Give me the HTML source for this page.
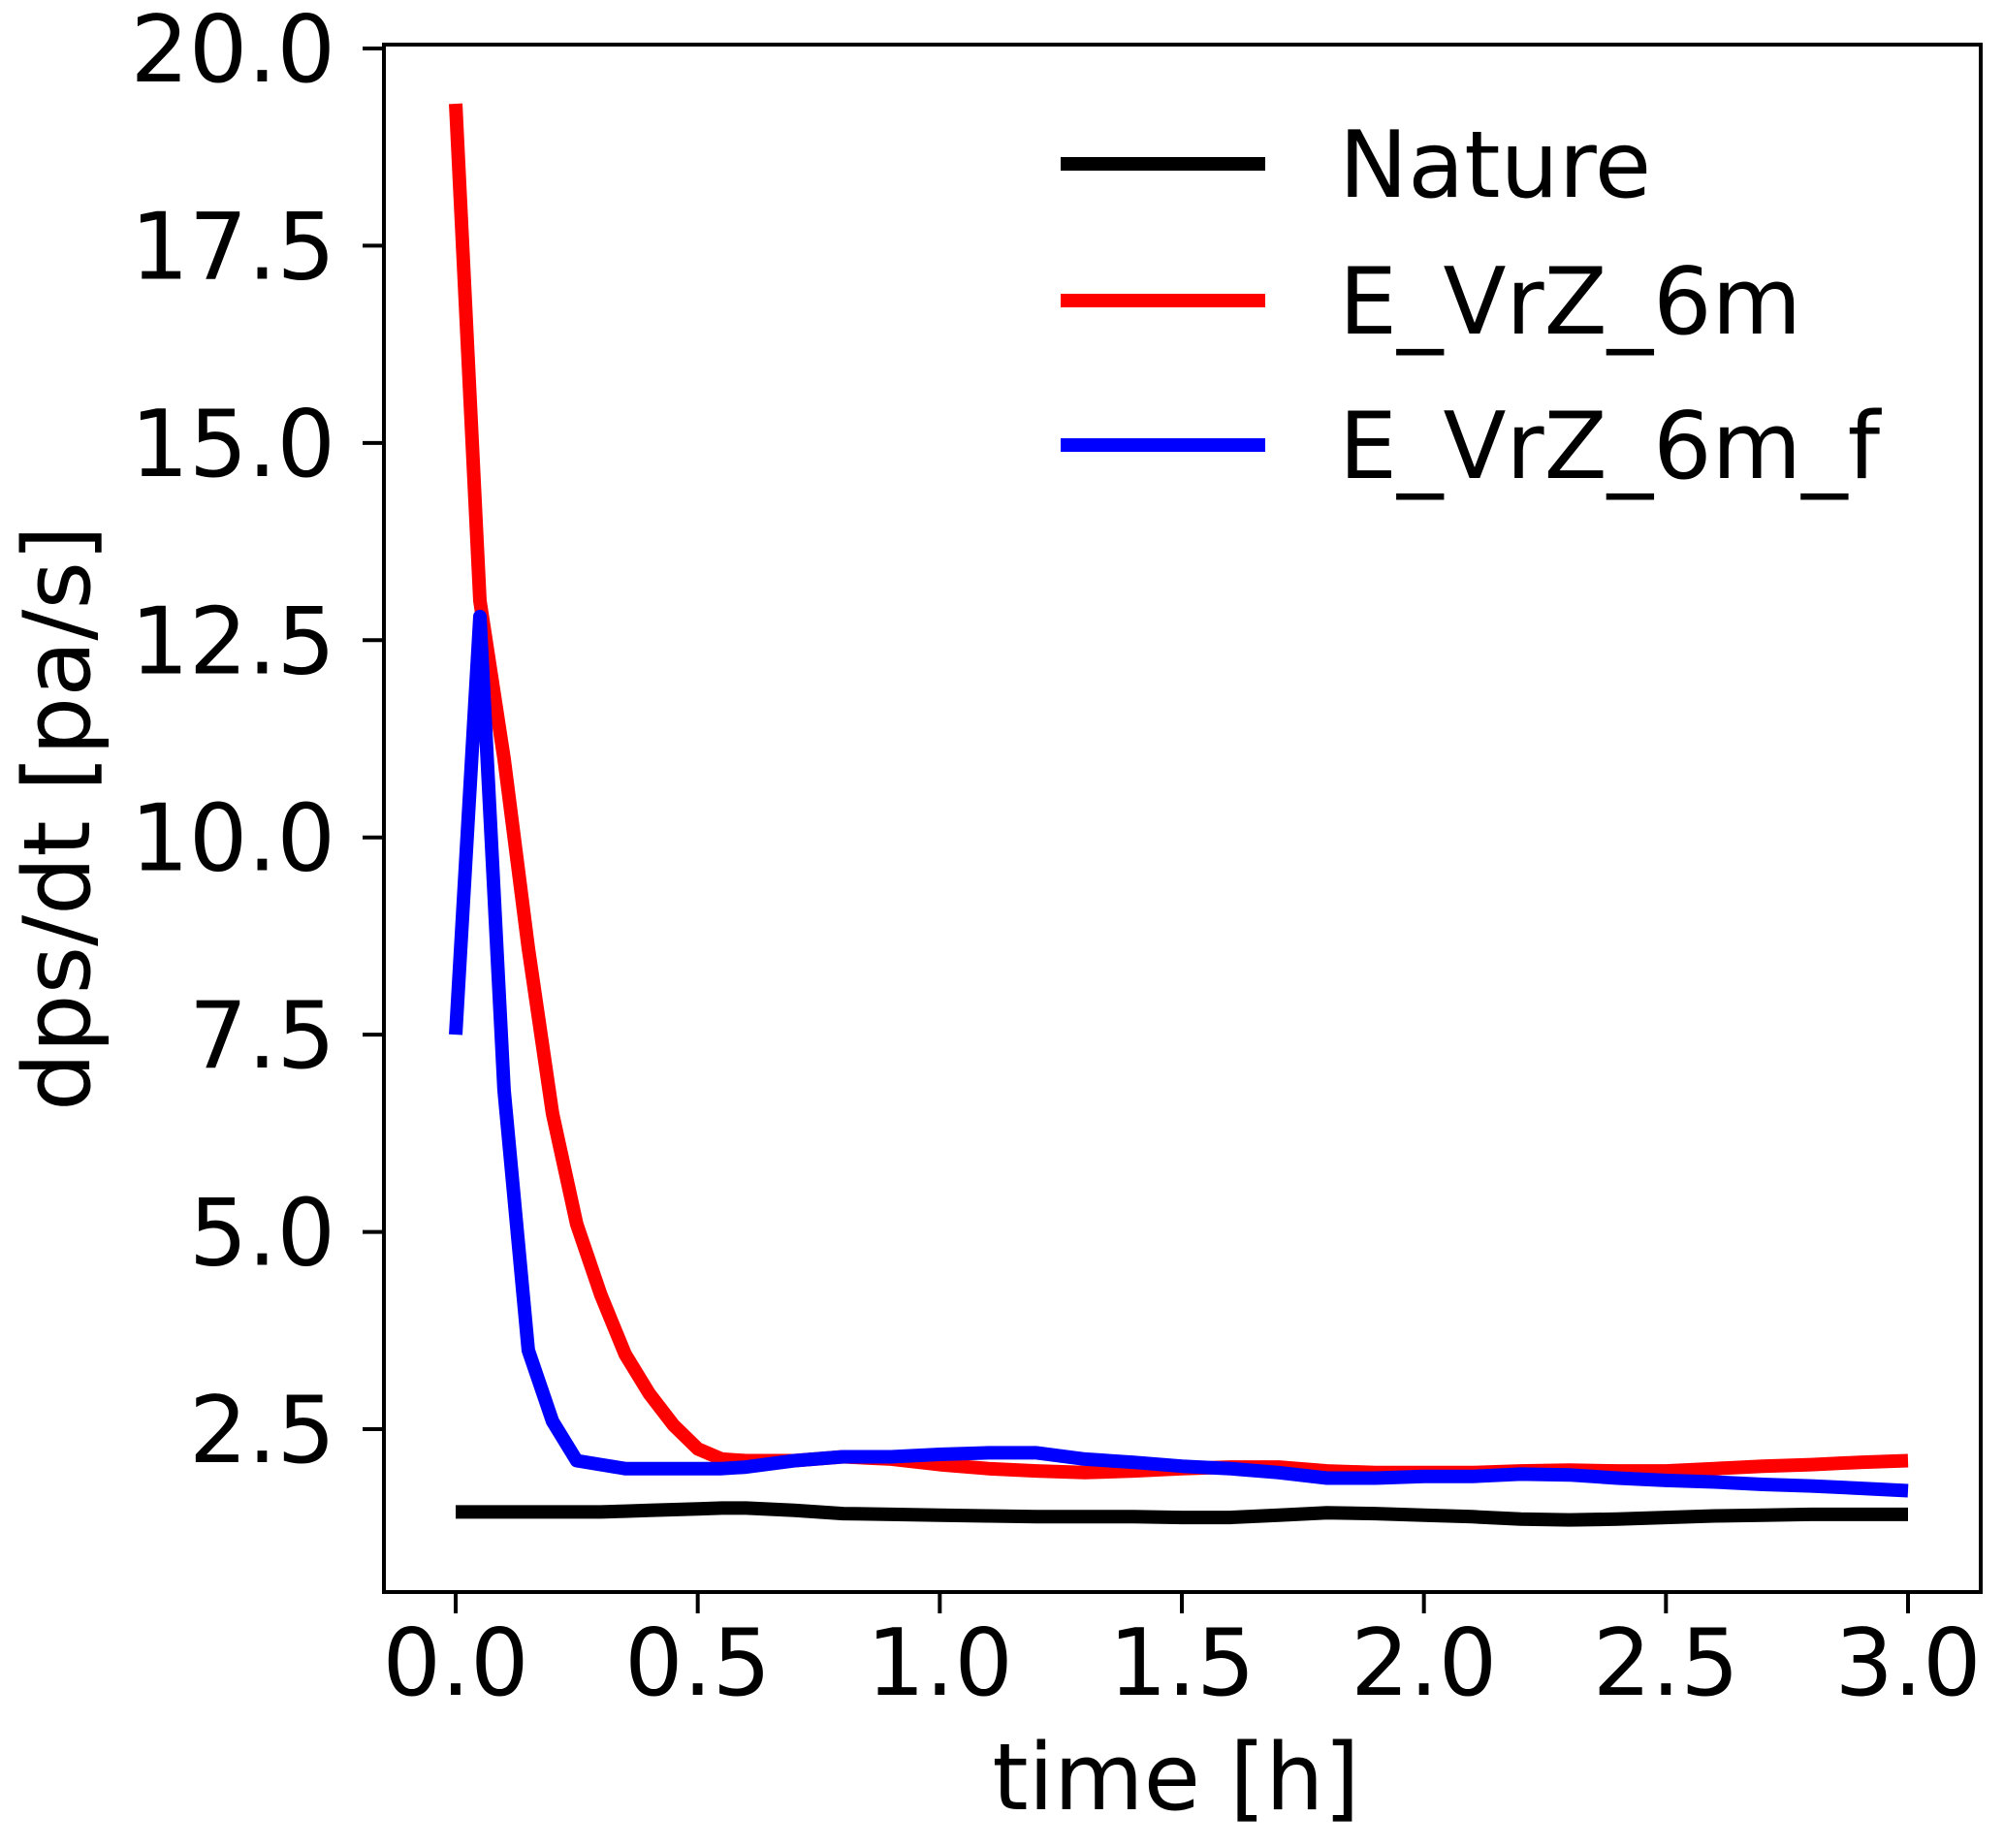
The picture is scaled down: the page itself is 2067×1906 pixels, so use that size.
<!DOCTYPE html>
<html><head><meta charset="utf-8"><style>
html,body{margin:0;padding:0;background:#fff;}
svg{display:block;}
text{font-family:"DejaVu Sans","Liberation Sans",sans-serif;fill:#000;}
</style></head>
<body>
<svg id="chart" width="2067" height="1906" viewBox="0 0 2067 1906" xmlns="http://www.w3.org/2000/svg">
<rect x="0" y="0" width="2067" height="1906" fill="#fff"/>
<g id="series"></g>
<rect x="396" y="46" width="1647" height="1596" fill="none" stroke="#000" stroke-width="4"/>
<g id="xticks"></g>
<g id="yticks"></g>
<text x="1213" y="1866" font-size="95" text-anchor="middle">time [h]</text>
<text transform="translate(92,844) rotate(-90)" font-size="95" text-anchor="middle">dps/dt [pa/s]</text>
<g>
<line x1="1094" y1="169" x2="1305" y2="169" stroke="#000" stroke-width="14"/>
<text x="1381" y="203" font-size="95">Nature</text>
<line x1="1094" y1="310" x2="1305" y2="310" stroke="#ff0000" stroke-width="14"/>
<text x="1381" y="344" font-size="95">E_VrZ_6m</text>
<line x1="1094" y1="459" x2="1305" y2="459" stroke="#0000ff" stroke-width="14"/>
<text x="1381" y="493" font-size="95">E_VrZ_6m_f</text>
</g>
</svg>
<script>
const times = [0,0.05,0.1,0.15,0.2,0.25,0.3,0.35,0.4,0.45,0.5,0.55,0.6,0.7,0.8,0.9,1.0,1.1,1.2,1.3,1.4,1.5,1.6,1.7,1.8,1.9,2.0,2.1,2.2,2.3,2.4,2.5,2.6,2.7,2.8,2.9,3.0];
const natureValues = [1.45,1.45,1.45,1.45,1.45,1.45,1.45,1.46,1.47,1.48,1.49,1.5,1.5,1.47,1.43,1.42,1.41,1.4,1.39,1.39,1.39,1.38,1.38,1.41,1.44,1.43,1.41,1.39,1.36,1.35,1.36,1.38,1.4,1.41,1.42,1.42,1.42];
const redValues = [19.3,13.0,11.0,8.6,6.5,5.1,4.2,3.45,2.95,2.55,2.25,2.12,2.1,2.1,2.15,2.12,2.05,2.0,1.97,1.95,1.97,2.0,2.02,2.02,1.97,1.95,1.95,1.95,1.97,1.98,1.97,1.97,2.0,2.03,2.05,2.08,2.1];
const blueValues = [7.5,12.8,6.8,3.5,2.6,2.1,2.05,2.0,2.0,2.0,2.0,2.0,2.02,2.1,2.15,2.15,2.18,2.2,2.2,2.12,2.08,2.03,2.0,1.95,1.88,1.88,1.9,1.9,1.93,1.92,1.88,1.85,1.83,1.8,1.78,1.75,1.72];
const xTickValues = [0,0.5,1.0,1.5,2.0,2.5,3.0];
const xTickLabels = ["0.0","0.5","1.0","1.5","2.0","2.5","3.0"];
const yTickValues = [2.5,5,7.5,10,12.5,15,17.5,20];
const yTickLabels = ["2.5","5.0","7.5","10.0","12.5","15.0","17.5","20.0"];

const NS = "http://www.w3.org/2000/svg";
function xScale(t){ return 470 + (t - 0) * (1968 - 470) / 3; }
function yScale(v){ return 1474 - (v - 2.5) * (1474 - 50) / 17.5; }

const sg = document.getElementById('series');
function drawLine(vals, color, name){
  const p = document.createElementNS(NS,'polyline');
  p.setAttribute('points', vals.map((v,i)=>xScale(times[i]).toFixed(1)+','+yScale(v).toFixed(1)).join(' '));
  p.setAttribute('fill','none');
  p.setAttribute('stroke',color);
  p.setAttribute('stroke-width','14');
  p.setAttribute('stroke-linejoin','round');
  
  
  sg.appendChild(p);
}
drawLine(natureValues,'#000000','line-nature');
drawLine(redValues,'#ff0000','line-e-vrz-6m');
drawLine(blueValues,'#0000ff','line-e-vrz-6m-f');

const xg = document.getElementById('xticks');
xTickValues.forEach((t,i)=>{
  const x = xScale(t);
  const l = document.createElementNS(NS,'line');
  l.setAttribute('x1',x); l.setAttribute('x2',x); l.setAttribute('y1',1642); l.setAttribute('y2',1664);
  l.setAttribute('stroke','#000'); l.setAttribute('stroke-width','4');
  
  
  xg.appendChild(l);
  const tx = document.createElementNS(NS,'text');
  tx.setAttribute('x',x); tx.setAttribute('y',1748);
  tx.setAttribute('font-size','95'); tx.setAttribute('text-anchor','middle');
  tx.textContent = xTickLabels[i];
  
  
  xg.appendChild(tx);
});
const yg = document.getElementById('yticks');
yTickValues.forEach((v,i)=>{
  const y = yScale(v);
  const l = document.createElementNS(NS,'line');
  l.setAttribute('x1',374); l.setAttribute('x2',396); l.setAttribute('y1',y); l.setAttribute('y2',y);
  l.setAttribute('stroke','#000'); l.setAttribute('stroke-width','4');
  
  
  yg.appendChild(l);
  const tx = document.createElementNS(NS,'text');
  tx.setAttribute('x',346); tx.setAttribute('y',y+34);
  tx.setAttribute('font-size','95'); tx.setAttribute('text-anchor','end');
  tx.textContent = yTickLabels[i];
  
  
  yg.appendChild(tx);
});
</script>
</body></html>
